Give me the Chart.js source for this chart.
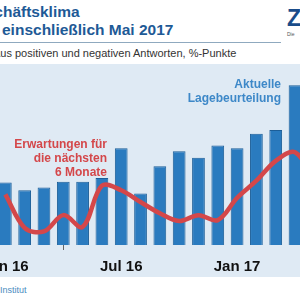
<!DOCTYPE html>
<html lang="de">
<head>
  <meta charset="UTF-8">
  <title>Geschäftsklima</title>
  <style>
    body {
      margin: 0;
      width: 300px;
      height: 300px;
      overflow: hidden;
      position: relative;
      background: #fff;
      font-family: "Liberation Sans", Arial, sans-serif;
    }
    .title {
      position: absolute;
      font-weight: bold;
      font-size: 15.5px;
      color: #1e5a96;
      white-space: nowrap;
    }
    .rule {
      position: absolute;
      left: 0; top: 42px;
      width: 281px; height: 0;
      border-top: 1.5px solid #8fa9bf;
    }
    .sub {
      position: absolute;
      left: -37px; top: 47px;
      font-size: 11px;
      color: #333;
      white-space: nowrap;
    }
    .logo {
      position: absolute;
      left: 287px; top: 5px;
      font-weight: bold;
      font-size: 23px;
      color: #1a4c8a;
    }
    .logo-small {
      position: absolute;
      left: 287px; top: 31px;
      font-size: 5px;
      color: #555;
    }
    .plot-bg {
      position: absolute;
      left: 0; top: 64px;
      width: 300px; height: 213px;
      background: #dfeaf4;
    }
    #chart {
      position: absolute;
      left: -26px; top: 64px;
    }
    .note {
      position: absolute;
      font-weight: bold;
      font-size: 12px;
      line-height: 14px;
      text-align: right;
      white-space: nowrap;
    }
    .source {
      position: absolute;
      left: 0; top: 285px;
      font-size: 9px;
      color: #4a8cc0;
    }
  </style>
</head>
<body>
  <div class="title" style="left:-35px; top:3px;">Geschäftsklima</div>
  <div class="title" style="left:2px; top:21px;">einschließlich Mai 2017</div>
  <div class="rule"></div>
  <div class="sub">Saldo aus positiven und negativen Antworten, %-Punkte</div>
  <div class="logo">Z</div>
  <div class="logo-small">Die</div>

  <div class="plot-bg"></div>
  <canvas id="chart" width="350" height="220"></canvas>

  <div class="note" style="right:19px; top:77px; color:#3d88c8;">Aktuelle<br>Lagebeurteilung</div>
  <div class="note" style="right:193px; top:137px; color:#d4474a;">Erwartungen für<br>die nächsten<br>6 Monate</div>

  <div class="source">Institut</div>

  <script src="https://cdn.jsdelivr.net/npm/chart.js"></script>
  <script>
    // months Dez 15 .. Mai 17 (Dez 15 and Mai 17 lie outside the visible crop)
    var months = ['Dez 15', 'Jan 16', 'Feb 16', 'Mrz 16', 'Apr 16', 'Mai 16', 'Jun 16',
                  'Jul 16', 'Aug 16', 'Sep 16', 'Okt 16', 'Nov 16', 'Dez 16',
                  'Jan 17', 'Feb 17', 'Mrz 17', 'Apr 17', 'Mai 17'];
    // labels shown on the axis
    var shownTicks = ['Jan 16', 'Jul 16', 'Jan 17'];

    // Aktuelle Lagebeurteilung (bars)
    var lage = [null, 13.8, 12.1, 12.7, 14.0, 14.0, 14.8, 21.4, 11.4, 17.4, 20.7,
                19.3, 22.0, 21.4, 24.6, 25.4, 35.3, 37.0];
    // Erwartungen für die nächsten 6 Monate (line)
    var erwartungen = [null, 11.2, 3.8, 3.0, 6.6, 4.0, 13.1, 12.1, 9.5, 7.0, 5.3,
                       6.6, 5.5, 10.4, 14.2, 18.6, 20.5, 14.4];

    function isShown(i) {
      return shownTicks.indexOf(months[i]) !== -1;
    }

    var ctx = document.getElementById('chart').getContext('2d');
    new Chart(ctx, {
      type: 'bar',
      data: {
        labels: months,
        datasets: [{
          type: 'line',
          label: 'Erwartungen für die nächsten 6 Monate',
          data: erwartungen,
          borderColor: '#d4474a',
          borderWidth: 4.5,
          pointRadius: 0,
          tension: 0.35,
          fill: false,
          order: 0
        }, {
          label: 'Aktuelle Lagebeurteilung',
          data: lage,
          backgroundColor: '#2a7bbf',
          borderColor: '#1c5e98',
          borderWidth: 1,
          barPercentage: 0.66,
          categoryPercentage: 1,
          order: 1
        }]
      },
      options: {
        responsive: false,
        animation: false,
        layout: { padding: 0 },
        plugins: {
          legend: { display: false },
          tooltip: { enabled: false }
        },
        scales: {
          x: {
            offset: true,
            border: { display: false },
            grid: {
              offset: true,
              drawOnChartArea: false,
              drawTicks: true,
              tickLength: 5,
              lineWidth: 1,
              color: function (c) {
                return isShown(c.index) ? '#666666' : 'rgba(0,0,0,0)';
              }
            },
            ticks: {
              autoSkip: false,
              maxRotation: 0,
              minRotation: 0,
              padding: 8,
              color: '#111',
              font: { family: 'Liberation Sans', size: 15, weight: 'bold' },
              callback: function (value, index) {
                return isShown(index) ? months[index] : null;
              }
            }
          },
          y: {
            display: false,
            min: 0,
            max: 40
          }
        }
      }
    });
  </script>
</body>
</html>
